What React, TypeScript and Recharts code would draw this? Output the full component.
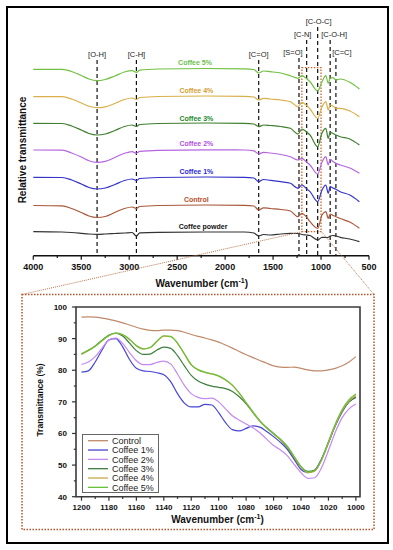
import React from "react";
import { LineChart, Line, XAxis, YAxis, ReferenceLine, ReferenceArea, ReferenceDot } from "recharts";

const FONT = "'Liberation Sans', Arial, Helvetica, sans-serif";

// full range spectra, stacked (relative transmittance, arbitrary units)
const WN = [4000, 3700, 3600, 3500, 3420, 3335, 3250, 3150, 3050, 2970, 2925, 2890, 2700, 2200, 1800, 1700, 1650, 1600, 1530, 1420, 1320, 1240, 1200, 1155, 1115, 1035, 990, 950, 925, 905, 875, 845, 800, 700, 600];
const coffee5 = [186.4, 186.4, 184.2, 180.2, 176.7, 175.0, 176.2, 179.7, 183.7, 185.0, 183.4, 185.5, 186.7, 187.2, 186.9, 186.2, 182.7, 184.7, 184.0, 182.7, 180.0, 177.4, 180.0, 177.4, 174.0, 164.7, 174.0, 180.0, 172.4, 177.4, 178.0, 175.7, 176.7, 173.4, 166.7];
const coffee4 = [159.0, 159.0, 156.7, 152.7, 149.4, 148.0, 148.9, 152.2, 156.2, 157.7, 156.2, 158.2, 159.2, 159.7, 159.4, 158.7, 155.7, 157.4, 156.7, 155.7, 154.0, 149.0, 153.4, 150.7, 146.7, 137.4, 148.7, 154.0, 145.7, 150.7, 149.7, 147.4, 147.4, 144.7, 139.0];
const coffee3 = [132.4, 132.2, 129.7, 125.7, 122.2, 120.7, 121.7, 125.2, 129.2, 130.7, 129.2, 131.2, 132.2, 132.7, 132.4, 131.7, 129.0, 130.7, 130.2, 129.2, 127.4, 121.7, 126.7, 124.0, 120.7, 109.0, 122.7, 127.4, 117.4, 123.4, 122.2, 120.7, 119.0, 116.7, 110.7];
const coffee2 = [105.7, 105.5, 102.7, 98.7, 95.0, 93.4, 94.4, 98.2, 102.4, 104.0, 102.4, 104.4, 105.4, 105.9, 105.7, 104.9, 101.7, 103.4, 102.7, 101.2, 99.0, 95.7, 97.4, 94.0, 90.7, 81.7, 93.7, 99.0, 90.7, 96.4, 94.2, 92.4, 90.7, 87.7, 82.4];
const coffee1 = [78.4, 78.2, 75.7, 71.7, 68.2, 66.7, 67.7, 71.2, 75.2, 76.7, 75.2, 77.2, 78.2, 78.7, 78.4, 77.7, 74.0, 76.2, 75.4, 74.0, 72.4, 67.4, 70.7, 67.4, 64.0, 54.0, 65.7, 70.7, 62.4, 69.0, 67.7, 66.4, 64.0, 60.7, 54.0];
const control = [50.2, 49.9, 47.2, 43.2, 39.7, 38.2, 39.2, 43.2, 47.2, 48.7, 47.2, 49.2, 50.2, 50.7, 50.4, 49.7, 45.7, 47.9, 47.2, 46.2, 44.7, 39.0, 42.4, 39.0, 34.0, 27.4, 40.7, 44.0, 37.4, 41.7, 40.2, 39.0, 37.2, 33.7, 27.4];
const powder = [24.0, 23.7, 23.2, 22.4, 21.7, 21.4, 21.7, 22.2, 22.7, 23.2, 19.7, 22.9, 23.4, 23.7, 23.7, 22.7, 19.7, 21.2, 20.7, 21.7, 22.4, 22.2, 21.2, 20.7, 20.2, 15.7, 18.4, 18.2, 18.4, 19.7, 20.2, 19.7, 18.4, 16.7, 14.0];

const TOP_TICKS = [4000, 3750, 3500, 3250, 3000, 2750, 2500, 2250, 2000, 1750, 1500, 1250, 1000, 750, 500];
const TOP_LABELS = [4000, 3500, 3000, 2500, 2000, 1500, 1000, 500];

const BAND_NAMES = ["[O-H]", "[C-H]", "[C=O]", "[S=O]", "[C-N]", "[C-O-C]", "[C-O-H]", "[C=C]"];
const BAND_WN = [3335, 2925, 1650, 1230, 1150, 1035, 905, 845];

// zoomed region 1200-1000 cm-1, transmittance %
const ZWN = [1200, 1195, 1190, 1185, 1180, 1175, 1170, 1165, 1160, 1155, 1150, 1145, 1140, 1135, 1130, 1125, 1120, 1115, 1110, 1105, 1100, 1095, 1090, 1085, 1080, 1075, 1070, 1065, 1060, 1055, 1050, 1045, 1040, 1035, 1030, 1025, 1020, 1015, 1010, 1005, 1000];
const zControl = [96.8, 96.9, 96.8, 96.5, 96.1, 95.6, 95.0, 94.3, 93.6, 93.0, 92.6, 92.5, 92.7, 92.7, 92.5, 92.0, 91.3, 90.7, 90.2, 89.6, 88.9, 88.0, 87.0, 85.9, 84.9, 84.0, 83.1, 82.2, 81.4, 81.0, 80.9, 81.0, 80.6, 80.1, 79.8, 79.8, 80.1, 80.6, 81.4, 82.6, 84.3];
const zC1 = [79.4, 79.8, 82.6, 86.4, 89.6, 90.0, 87.4, 83.4, 80.6, 79.8, 79.6, 79.2, 78.6, 76.4, 72.6, 69.6, 68.4, 68.4, 69.2, 69.0, 66.6, 63.4, 61.2, 60.8, 61.6, 62.4, 62.0, 60.6, 59.0, 57.2, 55.0, 51.8, 48.6, 47.6, 48.4, 52.0, 57.0, 62.4, 66.8, 70.0, 71.4];
const zC2 = [81.8, 82.6, 84.3, 87.0, 89.6, 90.2, 88.5, 85.6, 83.0, 81.8, 81.8, 82.5, 82.9, 82.0, 78.8, 75.2, 72.6, 71.4, 71.0, 71.2, 70.0, 67.8, 65.6, 64.2, 63.0, 61.8, 60.2, 58.2, 56.2, 54.8, 53.0, 50.2, 47.6, 45.8, 46.0, 49.2, 54.6, 60.4, 65.0, 67.8, 69.3];
const zC3 = [85.1, 86.3, 87.7, 89.5, 91.1, 91.7, 90.8, 88.6, 86.2, 85.0, 85.1, 86.4, 87.3, 86.9, 84.6, 81.4, 78.4, 76.6, 75.6, 75.0, 74.6, 74.2, 73.3, 71.6, 69.4, 66.6, 63.9, 61.8, 60.0, 58.0, 55.6, 52.4, 49.4, 48.0, 48.4, 51.8, 57.2, 62.6, 67.0, 70.0, 71.5];
const zC4 = [85.1, 86.2, 87.6, 89.3, 90.9, 91.7, 91.2, 89.7, 87.7, 86.7, 87.1, 89.1, 90.8, 90.6, 88.5, 85.1, 81.7, 80.1, 79.3, 78.8, 78.1, 76.9, 75.2, 72.7, 69.7, 66.7, 63.9, 61.7, 59.8, 58.0, 55.8, 52.6, 49.4, 47.6, 48.1, 51.6, 57.0, 62.6, 67.2, 70.2, 72.0];
const zC5 = [85.2, 86.3, 87.6, 89.4, 91.0, 91.8, 91.3, 89.8, 87.8, 86.8, 87.2, 89.2, 90.9, 90.7, 88.6, 85.2, 81.8, 80.2, 79.4, 78.9, 78.2, 77.0, 75.3, 72.8, 69.8, 66.8, 64.0, 61.8, 59.9, 58.2, 56.0, 52.8, 49.6, 47.8, 48.3, 51.8, 57.4, 63.0, 67.6, 70.7, 72.5];

const Z_XTICKS = [1200, 1190, 1180, 1170, 1160, 1150, 1140, 1130, 1120, 1110, 1100, 1090, 1080, 1070, 1060, 1050, 1040, 1030, 1020, 1010, 1000];
const Z_YTICKS = [40, 45, 50, 55, 60, 65, 70, 75, 80, 85, 90, 95, 100];

const topData = WN.map((w, i) => ({
  w,
  c5: coffee5[i],
  c4: coffee4[i],
  c3: coffee3[i],
  c2: coffee2[i],
  c1: coffee1[i],
  control: control[i],
  powder: powder[i],
}));

const zoomData = ZWN.map((w, i) => ({
  w,
  control: zControl[i],
  c1: zC1[i],
  c2: zC2[i],
  c3: zC3[i],
  c4: zC4[i],
  c5: zC5[i],
}));

const TOP_SERIES = [
  { key: "powder", name: "Coffee powder", color: "#333333", text: "#111111", lx: 2230, ly: 29 },
  { key: "control", name: "Control", color: "#a9583a", text: "#b5502a", lx: 2300, ly: 55.7 },
  { key: "c1", name: "Coffee 1%", color: "#3434c8", text: "#2a2ad0", lx: 2300, ly: 84 },
  { key: "c2", name: "Coffee 2%", color: "#b565e0", text: "#b050e0", lx: 2300, ly: 111.7 },
  { key: "c3", name: "Coffee 3%", color: "#3f7f2f", text: "#1a8a2a", lx: 2300, ly: 137.4 },
  { key: "c4", name: "Coffee 4%", color: "#d9b04a", text: "#d4a030", lx: 2300, ly: 165 },
  { key: "c5", name: "Coffee 5%", color: "#72c043", text: "#6cc04a", lx: 2314, ly: 193 },
];

const ZOOM_SERIES = [
  { key: "control", name: "Control", color: "#c08a6a" },
  { key: "c1", name: "Coffee 1%", color: "#4646d6" },
  { key: "c2", name: "Coffee 2%", color: "#c48af0" },
  { key: "c3", name: "Coffee 3%", color: "#3e7e3e" },
  { key: "c4", name: "Coffee 4%", color: "#c9a64a" },
  { key: "c5", name: "Coffee 5%", color: "#66c23a" },
];

// band line top ends and label shifts
const BAND_TOP = [195.7, 195.7, 195.7, 197.7, 215.7, 228.7, 215.7, 197.7];
const BAND_DX = [0, 0, 0, -6, -4, 1, 4, 6];

const TopTick = (p: any) => {
  const v = p.payload.value;
  const major = TOP_LABELS.includes(v);
  return (
    <g>
      <line x1={p.x} x2={p.x} y1={p.y} y2={p.y + (major ? 4 : 2.2)} stroke="#111" strokeWidth={1.2} />
      {major && (
        <text x={p.x} y={p.y + 14.6} textAnchor="middle" fontSize={9} fontWeight="bold" fill="#111" fontFamily={FONT}>
          {v}
        </text>
      )}
    </g>
  );
};

const ZoomXTick = (p: any) => {
  const v = p.payload.value;
  const major = v % 20 === 0;
  return (
    <g>
      <line x1={p.x} x2={p.x} y1={p.y} y2={p.y + (major ? 4 : 2.2)} stroke="#333" strokeWidth={1.2} />
      {major && (
        <text x={p.x} y={p.y + 13} textAnchor="middle" fontSize={8} fontWeight="bold" fill="#111" fontFamily={FONT}>
          {v}
        </text>
      )}
    </g>
  );
};

const ZoomYTick = (p: any) => {
  const v = p.payload.value;
  const major = v % 10 === 0;
  return (
    <g>
      <line x1={p.x} x2={p.x - (major ? 4 : 2.2)} y1={p.y} y2={p.y} stroke="#333" strokeWidth={1.2} />
      {major && (
        <text x={p.x - 9} y={p.y + 3} textAnchor="end" fontSize={8} fontWeight="bold" fill="#111" fontFamily={FONT}>
          {v}
        </text>
      )}
    </g>
  );
};

function bandLabel(name: string, dx: number) {
  return (props: any) => {
    const vb = props.viewBox || {};
    const x = (vb.x ?? 0) + (vb.width ?? 0) / 2 + dx;
    return (
      <text x={x} y={(vb.y ?? 0) - 3} textAnchor="middle" fontSize={7.5} fill="#1a1a1a" stroke="none" fontFamily={FONT}>
        {name}
      </text>
    );
  };
}

function SurveyChart() {
  return (
    <LineChart width={393} height={300} data={topData} margin={{ top: 15.7, right: 24, bottom: 14.3, left: 33.3 }}>
      <XAxis
        dataKey="w"
        type="number"
        domain={[500, 4000]}
        reversed
        ticks={TOP_TICKS}
        interval={0}
        tick={<TopTick />}
        tickLine={false}
        tickSize={0}
        tickMargin={0}
        axisLine={{ stroke: "#111", strokeWidth: 1.4 }}
        height={30}
      />
      <YAxis hide domain={[0, 240]} />
      {BAND_WN.map((w, i) => (
        <ReferenceLine
          key={BAND_NAMES[i]}
          segment={[{ x: w, y: BAND_TOP[i] }, { x: w, y: 0 }]}
          stroke="#111"
          strokeWidth={1.2}
          strokeDasharray="4 3"
          label={bandLabel(BAND_NAMES[i], BAND_DX[i])}
        />
      ))}
      <ReferenceArea x1={1200} x2={1000} y1={24} y2={188} fill="none" fillOpacity={0} stroke="#c8692e" strokeWidth={1.3} strokeDasharray="1.5 1.5" />
      {TOP_SERIES.map((s) => (
        <Line key={s.key} dataKey={s.key} type="monotone" stroke={s.color} strokeWidth={1.2} dot={false} isAnimationActive={false} />
      ))}
      {TOP_SERIES.map((s) => (
        <ReferenceDot
          key={"l" + s.key}
          x={s.lx}
          y={s.ly}
          r={1}
          fill="none"
          stroke="none"
          label={{ value: s.name, position: "center", fill: s.text, fontSize: 7, fontWeight: "bold", fontFamily: FONT }}
        />
      ))}
    </LineChart>
  );
}

function ZoomChart() {
  return (
    <LineChart width={393} height={250} data={zoomData} margin={{ top: 27, right: 33, bottom: 3.3, left: 36 }}>
      <XAxis
        dataKey="w"
        type="number"
        domain={[997, 1204]}
        reversed
        ticks={Z_XTICKS}
        interval={0}
        tick={<ZoomXTick />}
        tickLine={false}
        tickSize={0}
        tickMargin={0}
        axisLine={false}
        height={30}
      />
      <YAxis
        type="number"
        domain={[40, 100]}
        ticks={Z_YTICKS}
        interval={0}
        tick={<ZoomYTick />}
        tickLine={false}
        tickSize={0}
        tickMargin={0}
        axisLine={false}
        width={40}
      />
      {ZOOM_SERIES.map((s) => (
        <Line key={s.key} dataKey={s.key} type="monotone" stroke={s.color} strokeWidth={1.2} dot={false} isAnimationActive={false} />
      ))}
      <ReferenceArea x1={997} x2={1204} y1={40} y2={100} fill="none" fillOpacity={0} stroke="#3a3a3a" strokeWidth={1.6} />
    </LineChart>
  );
}

function ZoomLegend() {
  return (
    <svg width={77} height={59} style={{ position: "absolute", left: 82, top: 434 }}>
      <rect x={0.5} y={0.5} width={76} height={58} fill="#fff" stroke="#666" strokeWidth={1} />
      {ZOOM_SERIES.map((s, i) => {
        const y = 6.7 + i * 9.33;
        return (
          <g key={s.key}>
            <line x1={6} x2={26} y1={y} y2={y} stroke={s.color} strokeWidth={1.3} />
            <text x={30} y={y + 3.2} fontSize={9} fill="#222" fontFamily={FONT}>
              {s.name}
            </text>
          </g>
        );
      })}
    </svg>
  );
}

export default function App() {
  const title = { fontFamily: FONT, fontWeight: "bold" as const, fill: "#111" };
  return (
    <div style={{ position: "absolute", left: 0, top: 0, width: 393, height: 550, background: "#fff", fontFamily: FONT }}>
      <div style={{ position: "absolute", left: 6, top: 6, width: 383, height: 538, boxSizing: "border-box", border: "2px solid #000" }} />
      <div style={{ position: "absolute", left: 0, top: 0 }}>
        <SurveyChart />
      </div>
      <div style={{ position: "absolute", left: 0, top: 280 }}>
        <ZoomChart />
      </div>
      <svg width={393} height={550} style={{ position: "absolute", left: 0, top: 0, pointerEvents: "none" }}>
        <line x1={301.8} y1={231.7} x2={22} y2={294.5} stroke="#b8774f" strokeWidth={1} strokeDasharray="1 1" />
        <line x1={321.5} y1={231.7} x2={374} y2={294.5} stroke="#b8774f" strokeWidth={1} strokeDasharray="1 1" />
        <rect x={22} y={294.5} width={352} height={235} fill="none" stroke="#b5532a" strokeWidth={1.5} strokeDasharray="1.5 1.5" />
        <text x={22} y={150} transform="rotate(-90 22 150)" textAnchor="middle" dominantBaseline="central" fontSize={10} {...title}>
          Relative transmittance
        </text>
        <text x={201.7} y={287} textAnchor="middle" fontSize={10} {...title}>
          Wavenumber (cm<tspan dy={-4} fontSize={7}>-1</tspan><tspan dy={4}>)</tspan>
        </text>
        <text x={40} y={400} transform="rotate(-90 40 400)" textAnchor="middle" dominantBaseline="central" fontSize={8.5} {...title}>
          Transmittance (%)
        </text>
        <text x={217.5} y={523} textAnchor="middle" fontSize={10} {...title}>
          Wavenumber (cm<tspan dy={-4} fontSize={7}>-1</tspan><tspan dy={4}>)</tspan>
        </text>
      </svg>
      <ZoomLegend />
    </div>
  );
}
